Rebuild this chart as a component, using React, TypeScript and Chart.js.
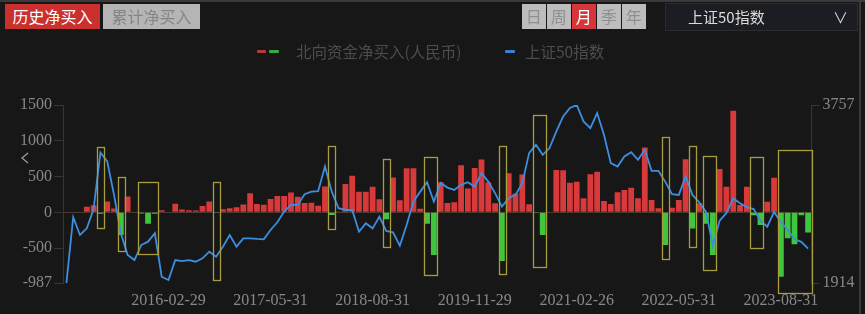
import React, { useEffect, useRef } from 'react';
import { Chart, registerables } from 'chart.js';

Chart.register(...registerables);

// ---------- data ----------
const START_MONTH = '2014-11';

// 北向资金月度净买入 (亿元)
const NET_BUY = [
  0, 0, 0, 80, 100, -20, 150, 55, -317, 220,
  0, -15, -160, -20, 30, 0, 120, 40, 30, 25,
  88, 150, -10, 42, 56, 70, 110, 266, 117, 105,
  187, 229, 229, 278, 219, 130, 133, 93, 362, -37,
  5, 396, 512, 289, 289, 359, 184, -98, 487, 170,
  615, 615, 50, -160, -597, 420, 132, 142, 657, 335,
  620, 737, 420, 126, -678, 545, 265, 530, 112, -10,
  -317, 0, 592, 588, 415, 429, 196, 533, 568, 160,
  116, 280, 312, 345, 196, 906, 172, 56, -457, 65,
  172, 741, -224, 126, -160, -597, 606, 359, 1420, 103,
  359, -40, -177, 149, 485, -899, -363, -447, -40, -280,
];

// 上证50指数 月末收盘
const SSE50 = [
  1914, 2595, 2411, 2480, 2680, 3265, 3172, 2826, 2430, 2204,
  2152, 2307, 2342, 2429, 1979, 1944, 2152, 2140, 2150, 2134,
  2169, 2238, 2186, 2290, 2411, 2290, 2376, 2376, 2370, 2366,
  2463, 2543, 2653, 2722, 2722, 2833, 2860, 2866, 3120, 2860,
  2688, 2670, 2670, 2445, 2532, 2480, 2601, 2453, 2439, 2300,
  2515, 2757, 2860, 2958, 2757, 2950, 2902, 2878, 2930, 2958,
  2912, 3051, 2964, 2844, 2705, 2792, 2826, 2948, 3259, 3345,
  3241, 3311, 3483, 3639, 3726, 3757, 3587, 3518, 3674, 3449,
  3155, 3120, 3224, 3269, 3189, 3293, 3075, 3075, 2964, 2833,
  2826, 3016, 2826, 2750, 2650, 2300, 2560, 2640, 2790, 2740,
  2700, 2680, 2560, 2497, 2650, 2545, 2465, 2370, 2340, 2270,
];

const X_TICK_LABELS = [
  '2016-02-29', '2017-05-31', '2018-08-31', '2019-11-29',
  '2021-02-26', '2022-05-31', '2023-08-31',
];
const LEFT_TICKS = [-987, -500, 0, 500, 1000, 1500];
const RIGHT_TICKS = [1914, 3757];

// highlighted periods: category index range, value range on the left axis
const BOX_FROM = [5, 8, 11, 22, 39, 47, 53, 64, 69, 88, 92, 94, 101, 105];
const BOX_TO = [5, 8, 13, 22, 39, 47, 54, 64, 70, 88, 92, 95, 102, 109];
const BOX_TOP = [909, 489, 428, 419, 933, 745, 777, 933, 1360, 1057, 927, 783, 777, 871];
const BOX_BOTTOM = [-224, -551, -583, -954, -224, -481, -877, -853, -760, -643, -481, -807, -495, -1132];

function buildMonths(start: string, n: number): string[] {
  const [y0, m0] = start.split('-').map(Number);
  const out: string[] = [];
  for (let k = 0; k < n; k++) {
    const t = (m0 - 1) + k;
    const y = y0 + Math.floor(t / 12);
    const m = (t % 12) + 1;
    out.push(`${y}-${String(m).padStart(2, '0')}`);
  }
  return out;
}
const MONTHS = buildMonths(START_MONTH, NET_BUY.length);

// ---------- style ----------
const BG = '#171717';
const RED = '#d8393b';
const GREEN = '#3ec63e';
const BLUE = '#3d8ee0';
const BOX_COLOR = '#a89c3c';
const TICK_COLOR = '#888888';
const AXIS_COLOR = '#363636';
const SERIF = "'Liberation Serif', 'DejaVu Serif', serif";
const CJK = "'Noto Sans CJK SC', 'Noto Sans', sans-serif";

const boxPlugin = {
  id: 'periodBoxes',
  afterDatasetsDraw(chart: any) {
    const { ctx, scales } = chart;
    const x = scales.x;
    const y = scales.y;
    const half = (x.getPixelForValue(1) - x.getPixelForValue(0)) * 0.49;
    ctx.save();
    ctx.strokeStyle = BOX_COLOR;
    ctx.lineWidth = 1.3;
    for (let k = 0; k < BOX_FROM.length; k++) {
      const l = x.getPixelForValue(BOX_FROM[k]) - half;
      const r = x.getPixelForValue(BOX_TO[k]) + half;
      const t = y.getPixelForValue(BOX_TOP[k]);
      const b = y.getPixelForValue(BOX_BOTTOM[k]);
      ctx.strokeRect(Math.round(l) + 0.5, Math.round(t) + 0.5, Math.round(r - l), Math.round(b - t));
    }
    ctx.restore();
  },
};

function ChartCanvas() {
  const ref = useRef<HTMLCanvasElement | null>(null);
  useEffect(() => {
    if (!ref.current) return;
    const chart = new Chart(ref.current, {
      type: 'bar',
      data: {
        labels: MONTHS,
        datasets: [
          {
            type: 'line',
            label: '上证50指数',
            data: SSE50,
            yAxisID: 'y1',
            borderColor: BLUE,
            borderWidth: 1.8,
            pointRadius: 0,
            tension: 0,
            order: 0,
          } as any,
          {
            type: 'bar',
            label: '北向资金净买入(人民币)',
            data: NET_BUY,
            yAxisID: 'y',
            backgroundColor: NET_BUY.map((v) => (v >= 0 ? RED : GREEN)),
            barPercentage: 0.85,
            categoryPercentage: 1,
            order: 1,
          } as any,
        ],
      },
      options: {
        responsive: false,
        animation: false,
        devicePixelRatio: 1,
        layout: { padding: { top: 105, left: 0, right: 0, bottom: 0 } },
        plugins: { legend: { display: false }, tooltip: { enabled: false } },
        scales: {
          x: {
            type: 'category',
            offset: true,
            grid: { display: false, drawTicks: false },
            border: { display: false },
            ticks: {
              autoSkip: false,
              maxRotation: 0,
              minRotation: 0,
              padding: 8,
              color: TICK_COLOR,
              font: { family: SERIF, size: 16 },
              callback: (_v: any, index: number) => {
                const m = MONTHS[index];
                const lbl = X_TICK_LABELS.find((t) => t.startsWith(m));
                return lbl ?? '';
              },
            },
            afterFit: (s: any) => { s.height = 31; },
          },
          y: {
            position: 'left',
            min: LEFT_TICKS[0],
            max: LEFT_TICKS[LEFT_TICKS.length - 1],
            afterBuildTicks: (s: any) => { s.ticks = LEFT_TICKS.map((v) => ({ value: v })); },
            afterFit: (s: any) => { s.width = 63; },
            grid: {
              drawOnChartArea: true,
              color: (c: any) => (c.tick && c.tick.value === 0 ? '#4a3a30' : 'rgba(0,0,0,0)'),
              tickColor: AXIS_COLOR,
              tickLength: 9,
            },
            border: { color: AXIS_COLOR },
            ticks: {
              padding: 2,
              color: TICK_COLOR,
              font: { family: SERIF, size: 16 },
              callback: (v: any) => String(v),
            },
          },
          y1: {
            position: 'right',
            min: RIGHT_TICKS[0],
            max: RIGHT_TICKS[RIGHT_TICKS.length - 1],
            afterBuildTicks: (s: any) => { s.ticks = RIGHT_TICKS.map((v) => ({ value: v })); },
            afterFit: (s: any) => { s.width = 53.5; },
            grid: { drawOnChartArea: false, tickColor: AXIS_COLOR, tickLength: 8 },
            border: { color: AXIS_COLOR },
            ticks: {
              padding: 3,
              color: TICK_COLOR,
              font: { family: SERIF, size: 16 },
              callback: (v: any) => String(v),
            },
          },
        },
      },
      plugins: [boxPlugin],
    });
    return () => chart.destroy();
  }, []);
  return (
    <canvas
      ref={ref}
      width={865}
      height={314}
      style={{ position: 'absolute', left: 0, top: 0, width: 865, height: 314 }}
    />
  );
}

const btn = (extra: React.CSSProperties): React.CSSProperties => ({
  position: 'absolute',
  top: 4,
  height: 25,
  lineHeight: '25px',
  textAlign: 'center',
  fontFamily: CJK,
  fontSize: 16,
  ...extra,
});

export default function App() {
  const periods = ['日', '周', '月', '季', '年'];
  return (
    <div
      style={{
        position: 'fixed',
        left: 0,
        top: 0,
        width: 865,
        height: 314,
        background: BG,
        overflow: 'hidden',
      }}
    >
      <ChartCanvas />
      {/* frame lines */}
      <div style={{ position: 'absolute', left: 0, top: 0, width: 865, height: 2, background: '#3a3a3a' }} />
      <div style={{ position: 'absolute', left: 859, top: 0, width: 2, height: 314, background: '#3a3a3a' }} />

      {/* top-left toggle */}
      <div style={btn({ left: 5, width: 95, background: '#c9302e', color: '#ffffff' })}>历史净买入</div>
      <div style={btn({ left: 103, width: 97, background: '#b5b5b5', color: '#858585' })}>累计净买入</div>

      {/* period buttons */}
      {periods.map((p, k) => (
        <div
          key={p}
          style={btn({
            left: 522 + k * 25,
            width: 23.5,
            background: p === '月' ? '#d4363a' : '#bdbdbd',
            color: p === '月' ? '#ffffff' : '#8f8f8f',
          })}
        >
          {p}
        </div>
      ))}

      {/* index selector */}
      <div
        style={{
          position: 'absolute',
          left: 665,
          top: 3,
          width: 191,
          height: 26,
          background: '#1c1d23',
          border: '1px solid #2c2c2c',
          fontFamily: CJK,
          fontSize: 15,
          color: '#dcdcdc',
          lineHeight: '26px',
        }}
      >
        <span style={{ position: 'absolute', left: 22 }}>上证50指数</span>
        <span style={{ position: 'absolute', left: 167, color: '#cfcfcf' }}>∨</span>
      </div>

      {/* legend */}
      <div style={{ position: 'absolute', left: 257, top: 50, width: 9, height: 3, background: '#b8393a', borderRadius: 1 }} />
      <div style={{ position: 'absolute', left: 269, top: 50, width: 10, height: 3, background: '#3aa840', borderRadius: 1 }} />
      <div
        style={{
          position: 'absolute',
          left: 296,
          top: 41,
          fontFamily: CJK,
          fontSize: 15.5,
          lineHeight: '20px',
          color: '#4d4d4d',
          whiteSpace: 'nowrap',
        }}
      >
        北向资金净买入(人民币)
      </div>
      <div style={{ position: 'absolute', left: 505, top: 50, width: 10, height: 3, background: '#3a7fd0', borderRadius: 1 }} />
      <div
        style={{
          position: 'absolute',
          left: 525,
          top: 41,
          fontFamily: CJK,
          fontSize: 15.5,
          lineHeight: '20px',
          color: '#4d4d4d',
          whiteSpace: 'nowrap',
        }}
      >
        上证50指数
      </div>

      {/* nav arrow */}
      <svg style={{ position: 'absolute', left: 18, top: 150 }} width={14} height={16}>
        <polyline points="10,3 4,8 10,13" fill="none" stroke="#9a9a9a" strokeWidth={1.3} />
      </svg>
    </div>
  );
}
